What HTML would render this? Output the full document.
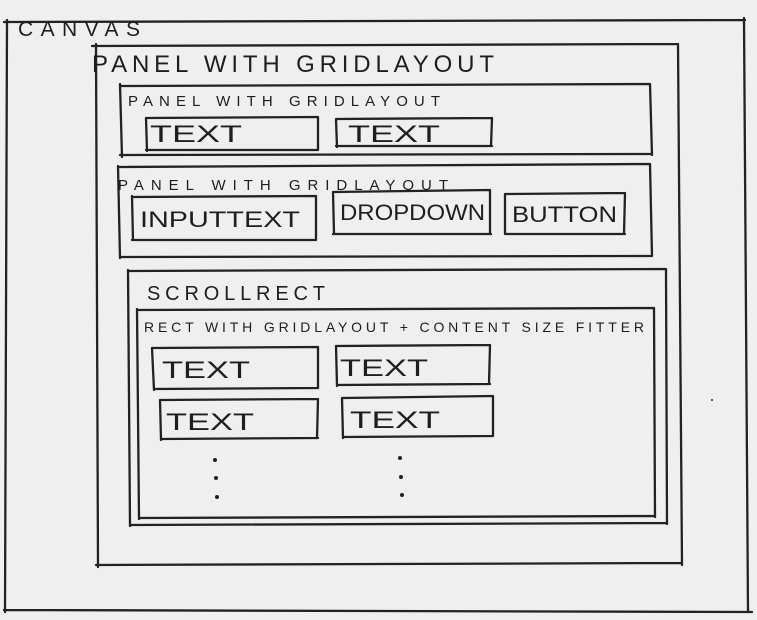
<!DOCTYPE html>
<html><head><meta charset="utf-8"><style>
html,body{margin:0;padding:0;background:#efefef;}
svg{display:block}
text{font-family:"Liberation Sans",sans-serif;fill:#1e1e1e}
</style></head><body>
<svg width="757" height="620" viewBox="0 0 757 620" xmlns="http://www.w3.org/2000/svg">
<rect width="757" height="620" fill="#efefef"/>
<g fill="none" stroke="#222" stroke-width="2.3" stroke-linecap="round">
<path d="M4 22 L745 20 M7 20 L5 612 M744 18 L748 612 M4 610 L752 612"/>
<path d="M92 46 L678 44 M96 44 L98 567 M678 44 L682 565 M96 565 L682 563"/>
<path d="M120 86 L650 84 M120 84 L122 157 M650 84 L652 155 M120 155 L652 154"/>
<path d="M146 118 L318 117 M146 118 L147 151 M318 117 L318 150 M146 150 L318 150"/>
<path d="M336 119 L492 118 M336 119 L337 147 M492 118 L491 146 M336 146 L492 146"/>
<path d="M118 167 L650 164 M118 166 L120 258 M650 164 L652 256 M120 257 L652 256"/>
<path d="M132 197 L316 196 M132 196 L133 240 M316 196 L316 240 M132 240 L316 240"/>
<path d="M333 192 L490 190 M333 192 L334 234 M490 190 L490 234 M333 234 L491 234"/>
<path d="M505 194 L625 193 M505 194 L505 234 M625 193 L624 234 M505 234 L625 234"/>
<path d="M128 271 L666 269 M128 270 L130 526 M666 269 L667 524 M130 525 L667 523"/>
<path d="M137 310 L654 308 M137 309 L139 519 M654 308 L655 517 M139 518 L655 516"/>
<path d="M152 348 L318 347 M152 348 L154 390 M318 347 L318 388 M154 389 L318 388"/>
<path d="M336 346 L490 345 M336 346 L337 386 M490 345 L489 384 M337 385 L490 384"/>
<path d="M160 400 L318 399 M160 400 L161 440 M318 399 L317 438 M161 439 L318 438"/>
<path d="M342 398 L493 396 M342 398 L343 438 M493 396 L493 436 M343 437 L493 436"/>
</g>
<g fill="#222">
<circle cx="215" cy="460" r="2"/><circle cx="216" cy="478" r="2"/><circle cx="217" cy="497" r="2"/>
<circle cx="400" cy="458" r="2"/><circle cx="401" cy="477" r="2"/><circle cx="402" cy="495" r="2"/>
<circle cx="712" cy="400" r="1"/>
</g>
<text x="18" y="36" font-size="21" textLength="122" lengthAdjust="spacing">CANVAS</text>
<text x="92" y="72" font-size="24" textLength="402" lengthAdjust="spacing">PANEL WITH GRIDLAYOUT</text>
<text x="128" y="106" font-size="15" textLength="312" lengthAdjust="spacing">PANEL WITH GRIDLAYOUT</text>
<text x="150" y="142" font-size="24" textLength="92" lengthAdjust="spacingAndGlyphs">TEXT</text>
<text x="348" y="142" font-size="24" textLength="92" lengthAdjust="spacingAndGlyphs">TEXT</text>
<text x="118" y="190" font-size="15" textLength="330" lengthAdjust="spacing">PANEL WITH GRIDLAYOUT</text>
<text x="140" y="227" font-size="22" textLength="160" lengthAdjust="spacingAndGlyphs">INPUTTEXT</text>
<text x="340" y="220" font-size="22" textLength="145" lengthAdjust="spacingAndGlyphs">DROPDOWN</text>
<text x="512" y="222" font-size="22" textLength="105" lengthAdjust="spacingAndGlyphs">BUTTON</text>
<text x="147" y="300" font-size="20" textLength="178" lengthAdjust="spacing">SCROLLRECT</text>
<text x="144" y="332" font-size="14" textLength="500" lengthAdjust="spacing">RECT WITH GRIDLAYOUT + CONTENT SIZE FITTER</text>
<text x="162" y="378" font-size="24" textLength="88" lengthAdjust="spacingAndGlyphs">TEXT</text>
<text x="340" y="376" font-size="24" textLength="88" lengthAdjust="spacingAndGlyphs">TEXT</text>
<text x="166" y="430" font-size="24" textLength="88" lengthAdjust="spacingAndGlyphs">TEXT</text>
<text x="350" y="428" font-size="24" textLength="90" lengthAdjust="spacingAndGlyphs">TEXT</text>
</svg>
</body></html>
